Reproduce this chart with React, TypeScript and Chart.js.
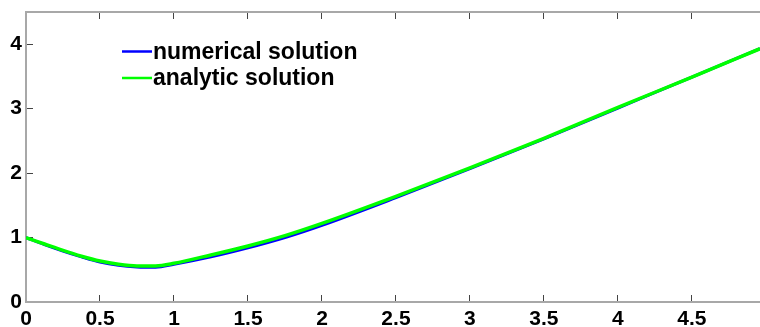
import React, { useEffect, useRef } from "react";
import { Chart, registerables } from "chart.js";

Chart.register(...registerables);

const xValues = [0, 0.125, 0.25, 0.375, 0.5, 0.625, 0.75, 0.875, 1, 1.25, 1.5, 1.75, 2, 2.5, 3, 3.5, 4, 4.5, 4.96];
const numerical = [1.0, 0.89, 0.79, 0.70, 0.62, 0.57, 0.545, 0.54, 0.585, 0.70, 0.84, 1.0, 1.19, 1.62, 2.07, 2.53, 3.01, 3.49, 3.93];
const analytic = [1.0, 0.90, 0.80, 0.71, 0.635, 0.585, 0.56, 0.56, 0.60, 0.73, 0.87, 1.03, 1.22, 1.64, 2.08, 2.54, 3.02, 3.49, 3.93];
const seriesLabels = ["numerical solution", "analytic solution"];
const seriesColors = ["#0000ff", "#00ff00"];
const xTickValues = [0, 0.5, 1, 1.5, 2, 2.5, 3, 3.5, 4, 4.5];
const yTickValues = [0, 1, 2, 3, 4];

const FONT = "'Liberation Sans', Arial, sans-serif";

const legendPlugin = {
  id: "insideLegend",
  afterDraw(chart: any) {
    const { ctx, chartArea } = chart;
    ctx.save();
    chart.data.datasets.forEach((ds: any, i: number) => {
      const y = chartArea.top + 39.5 + i * 26.5;
      const x0 = chartArea.left + 96;
      ctx.strokeStyle = ds.borderColor;
      ctx.lineWidth = 2.5;
      ctx.beginPath();
      ctx.moveTo(x0, y);
      ctx.lineTo(x0 + 30, y);
      ctx.stroke();
      ctx.fillStyle = "#000";
      ctx.font = `bold 23px ${FONT}`;
      ctx.textBaseline = "middle";
      ctx.textAlign = "left";
      ctx.fillText(ds.label, x0 + 31, y + 1);
    });
    ctx.restore();
  },
};

const setTicks = (values: number[]) => (scale: any) => {
  scale.ticks = values.map((v) => ({ value: v }));
};

const noPad = (s: any) => {
  s.paddingTop = 0;
  s.paddingBottom = 0;
  s.paddingLeft = 0;
  s.paddingRight = 0;
};

const fmt = (v: any) => String(v);

export default function App() {
  const ref = useRef<HTMLCanvasElement | null>(null);
  useEffect(() => {
    if (!ref.current) return;
    const pts = (ys: number[]) => xValues.map((x, i) => ({ x, y: ys[i] }));
    const chart = new Chart(ref.current, {
      type: "line",
      data: {
        datasets: [
          {
            label: seriesLabels[0],
            data: pts(numerical),
            borderColor: seriesColors[0],
            borderWidth: 3,
            pointRadius: 0,
            cubicInterpolationMode: "monotone",
            order: 2,
          },
          {
            label: seriesLabels[1],
            data: pts(analytic),
            borderColor: seriesColors[1],
            borderWidth: 3.5,
            pointRadius: 0,
            cubicInterpolationMode: "monotone",
            order: 1,
          },
        ],
      },
      options: {
        animation: false,
        responsive: false,
        layout: { padding: 0 },
        plugins: { legend: { display: false }, tooltip: { enabled: false } },
        scales: {
          x: {
            type: "linear",
            position: "bottom",
            min: 0,
            max: 4.96,
            afterBuildTicks: setTicks(xTickValues),
            afterFit: (s: any) => {
              s.height = 25;
              noPad(s);
            },
            ticks: {
              color: "#000",
              padding: 12,
              maxRotation: 0,
              autoSkip: false,
              callback: fmt,
              font: { family: FONT, size: 21, weight: "bold" },
            },
            grid: { drawOnChartArea: false, drawTicks: true, tickLength: -7, color: "#444" },
            border: { color: "#a8a8a8", width: 2 },
          },
          x2: {
            type: "linear",
            position: "top",
            min: 0,
            max: 4.96,
            afterBuildTicks: setTicks(xTickValues),
            afterFit: (s: any) => {
              s.height = 12;
              noPad(s);
            },
            ticks: { display: false },
            grid: { drawOnChartArea: false, drawTicks: true, tickLength: -7, color: "#444" },
            border: { color: "#a8a8a8", width: 2 },
          },
          y: {
            type: "linear",
            position: "left",
            min: 0,
            max: 4.5,
            afterBuildTicks: setTicks(yTickValues),
            afterFit: (s: any) => {
              s.width = 26;
              noPad(s);
            },
            ticks: {
              color: "#000",
              padding: 11,
              callback: fmt,
              font: { family: FONT, size: 21, weight: "bold" },
            },
            grid: { drawOnChartArea: false, drawTicks: true, tickLength: -7, color: "#444" },
            border: { color: "#a8a8a8", width: 2 },
          },
        },
      },
      plugins: [legendPlugin],
    } as any);
    return () => chart.destroy();
  }, []);
  return (
    <div style={{ position: "fixed", left: 0, top: 0, width: 760, height: 327, background: "#fff" }}>
      <canvas ref={ref} width={760} height={327} style={{ width: 760, height: 327, display: "block" }} />
    </div>
  );
}
